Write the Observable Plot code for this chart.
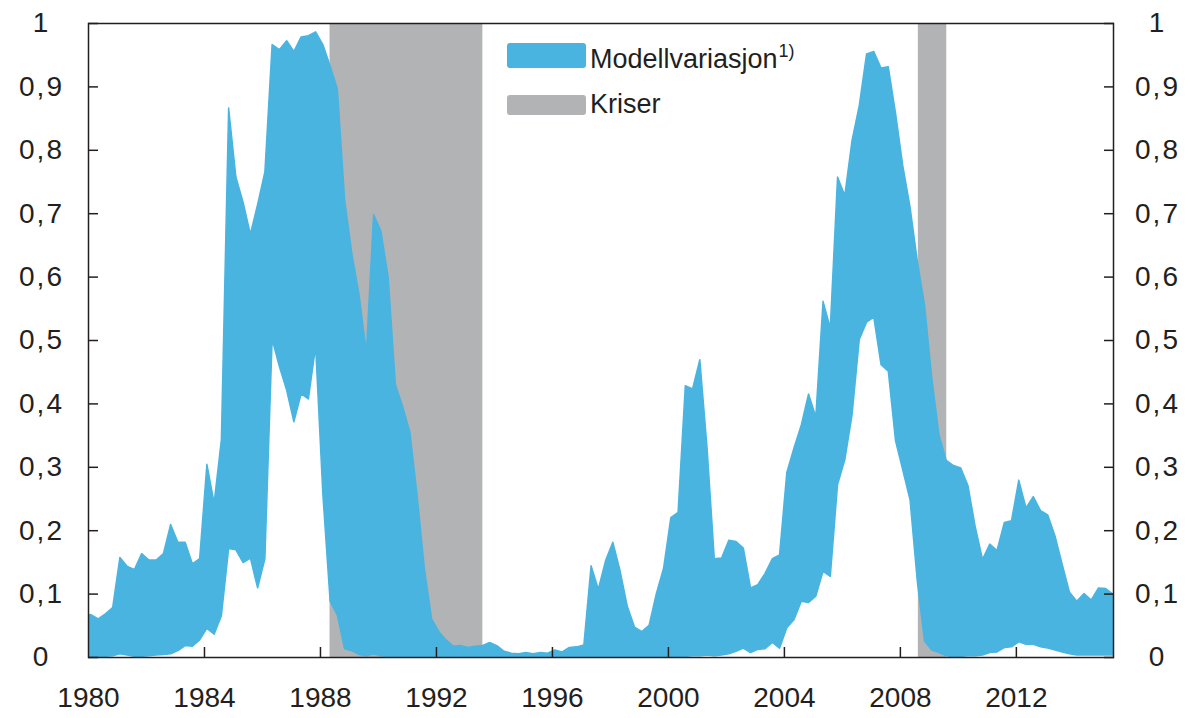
<!DOCTYPE html>
<html><head><meta charset="utf-8">
<script src="https://cdn.jsdelivr.net/npm/d3@7"></script>
<script src="https://cdn.jsdelivr.net/npm/@observablehq/plot@0.6"></script>
<style>
body{margin:0;background:#fff;}
#wrap{position:relative;width:1195px;height:718px;}
.leg{position:absolute;font-family:"Liberation Sans",Arial,Helvetica,sans-serif;font-size:27px;line-height:27px;color:#231f20;white-space:nowrap;}
.sw{position:absolute;border-radius:3px;}
g[aria-label="y-axis tick label"] text{letter-spacing:2px;}
</style></head><body><div id="wrap"></div>
<script>
// Quarterly model variation band (lower / upper), starting just before 1980
const upper = [
  0.064,
  0.067, 0.060, 0.068, 0.078, // 1980
  0.157, 0.143, 0.138, 0.163, // 1981
  0.153, 0.153, 0.163, 0.209, // 1982
  0.181, 0.181, 0.147, 0.155, // 1983
  0.304, 0.243, 0.343, 0.866, // 1984
  0.757, 0.717, 0.667, 0.714, // 1985
  0.765, 0.966, 0.958, 0.972, // 1986
  0.955, 0.978, 0.980, 0.986, // 1987
  0.966, 0.932, 0.896, 0.721, // 1988
  0.636, 0.571, 0.480, 0.698, // 1989
  0.672, 0.600, 0.430, 0.395, // 1990
  0.355, 0.255, 0.140, 0.060, // 1991
  0.040, 0.027, 0.017, 0.018, // 1992
  0.015, 0.017, 0.018, 0.023, // 1993
  0.018, 0.009, 0.006, 0.005, // 1994
  0.007, 0.005, 0.007, 0.006, // 1995
  0.011, 0.008, 0.015, 0.016, // 1996
  0.019, 0.144, 0.107, 0.152, // 1997
  0.181, 0.136, 0.080, 0.047, // 1998
  0.040, 0.050, 0.100, 0.140, // 1999
  0.220, 0.228, 0.428, 0.423, // 2000
  0.469, 0.330, 0.155, 0.156, // 2001
  0.184, 0.182, 0.172, 0.109, // 2002
  0.114, 0.132, 0.155, 0.161, // 2003
  0.291, 0.330, 0.366, 0.415, // 2004
  0.379, 0.561, 0.519, 0.757, // 2005
  0.728, 0.815, 0.870, 0.951, // 2006
  0.955, 0.929, 0.931, 0.858, // 2007
  0.775, 0.710, 0.625, 0.555, // 2008
  0.440, 0.350, 0.310, 0.302, // 2009
  0.298, 0.270, 0.205, 0.154, // 2010
  0.178, 0.168, 0.212, 0.215, // 2011
  0.279, 0.235, 0.253, 0.231, // 2012
  0.224, 0.191, 0.146, 0.102, // 2013
  0.088, 0.100, 0.090, 0.109, // 2014
  0.108, 0.099                // 2015
];
const lower = [
  0.000,
  0.000, 0.000, 0.001, 0.002, // 1980
  0.005, 0.003, 0.001, 0.001, // 1981
  0.002, 0.003, 0.004, 0.005, // 1982
  0.010, 0.018, 0.017, 0.027, // 1983
  0.045, 0.036, 0.065, 0.171, // 1984
  0.169, 0.149, 0.156, 0.109, // 1985
  0.155, 0.501, 0.458, 0.421, // 1986
  0.371, 0.415, 0.407, 0.490, // 1987
  0.256, 0.088, 0.066, 0.013, // 1988
  0.010, 0.004, 0.002, 0.005, // 1989
  0.002, 0.001, 0.001, 0.000, // 1990
  0.000, 0.000, 0.000, 0.000, // 1991
  0.000, 0.000, 0.000, 0.000, // 1992
  0.000, 0.000, 0.000, 0.000, // 1993
  0.000, 0.000, 0.000, 0.000, // 1994
  0.000, 0.000, 0.000, 0.000, // 1995
  0.000, 0.000, 0.000, 0.000, // 1996
  0.000, 0.000, 0.000, 0.000, // 1997
  0.000, 0.000, 0.000, 0.000, // 1998
  0.000, 0.000, 0.000, 0.000, // 1999
  0.000, 0.000, 0.001, 0.002, // 2000
  0.002, 0.003, 0.002, 0.003, // 2001
  0.005, 0.009, 0.014, 0.007, // 2002
  0.012, 0.013, 0.023, 0.014, // 2003
  0.046, 0.059, 0.088, 0.086, // 2004
  0.096, 0.135, 0.127, 0.272, // 2005
  0.311, 0.382, 0.501, 0.528, // 2006
  0.536, 0.461, 0.451, 0.341, // 2007
  0.295, 0.248, 0.120, 0.025, // 2008
  0.011, 0.007, 0.002, 0.000, // 2009
  0.001, 0.002, 0.002, 0.003, // 2010
  0.007, 0.008, 0.015, 0.016, // 2011
  0.024, 0.020, 0.020, 0.016, // 2012
  0.014, 0.011, 0.008, 0.005, // 2013
  0.003, 0.003, 0.003, 0.003, // 2014
  0.003, 0.003                // 2015
];
const quarters = upper.map((_, i) => 1979.85 + i / 4);
const crisisStart = [1988.33, 2008.62];
const crisisEnd = [1993.6, 2009.6];
const xLabels = [1980, 1984, 1988, 1992, 1996, 2000, 2004, 2008, 2012];
const xInnerTicks = [1984, 1988, 1992, 1996, 2000, 2004, 2008, 2012];
const yTicks = [0, 0.1, 0.2, 0.3, 0.4, 0.5, 0.6, 0.7, 0.8, 0.9, 1];
const legendLabels = ["Modellvariasjon", "Kriser"];

const band = quarters.map((t, i) => ({t, lo: lower[i], hi: upper[i]}));
const crises = crisisStart.map((s, i) => ({start: s, end: crisisEnd[i]}));
const BLUE = "#4ab4e0", GREY = "#b2b3b5", INK = "#231f20";
const fmt = d => String(+d.toFixed(1)).replace(".", ",");

const chart = Plot.plot({
  width: 1195, height: 718,
  marginLeft: 88, marginRight: 82, marginTop: 23, marginBottom: 61,
  x: {domain: [1980, 2015.35]},
  y: {domain: [0, 1]},
  style: {fontFamily: '"Liberation Sans", Arial, Helvetica, sans-serif', fontSize: "28px", color: INK, background: "white", overflow: "visible"},
  marks: [
    Plot.rect(crises, {x1: "start", x2: "end", y1: 0, y2: 1, fill: GREY}),
    Plot.areaY(band, {x: "t", y1: "lo", y2: "hi", fill: BLUE, stroke: BLUE, strokeWidth: 1.5, strokeLinejoin: "round", clip: true}),
    Plot.frame({stroke: INK, strokeWidth: 1.5}),
    Plot.axisY(yTicks, {anchor: "left", tickSize: 0, tickPadding: 47, textAnchor: "middle", tickFormat: fmt, label: null}),
    Plot.axisY(yTicks, {anchor: "right", tickSize: 0, tickPadding: 44, textAnchor: "middle", tickFormat: fmt, label: null}),
    Plot.axisY(yTicks, {anchor: "left", tickSize: -10, fill: "none", label: null, strokeWidth: 1.5}),
    Plot.axisY(yTicks, {anchor: "right", tickSize: -10, fill: "none", label: null, strokeWidth: 1.5}),
    Plot.axisX(xLabels, {anchor: "bottom", tickSize: 0, tickPadding: 30, tickFormat: d => String(d), label: null}),
    Plot.axisX(xInnerTicks, {anchor: "bottom", tickSize: -10, fill: "none", label: null, strokeWidth: 1.5})
  ]
});
const wrap = document.getElementById("wrap");
wrap.appendChild(chart);

function addDiv(cls, css, html) {
  const d = document.createElement("div");
  d.className = cls;
  d.style.cssText = css;
  if (html) d.innerHTML = html;
  wrap.appendChild(d);
}
addDiv("sw", `left:507px;top:43px;width:79px;height:25px;background:${BLUE};`);
addDiv("sw", `left:507px;top:95px;width:79px;height:20px;background:${GREY};`);
addDiv("leg", "left:590px;top:46px;", legendLabels[0] + '<span style="font-size:18px;position:relative;top:-11px;margin-left:1px;">1)</span>');
addDiv("leg", "left:590px;top:91px;", legendLabels[1]);
</script>
</body></html>
